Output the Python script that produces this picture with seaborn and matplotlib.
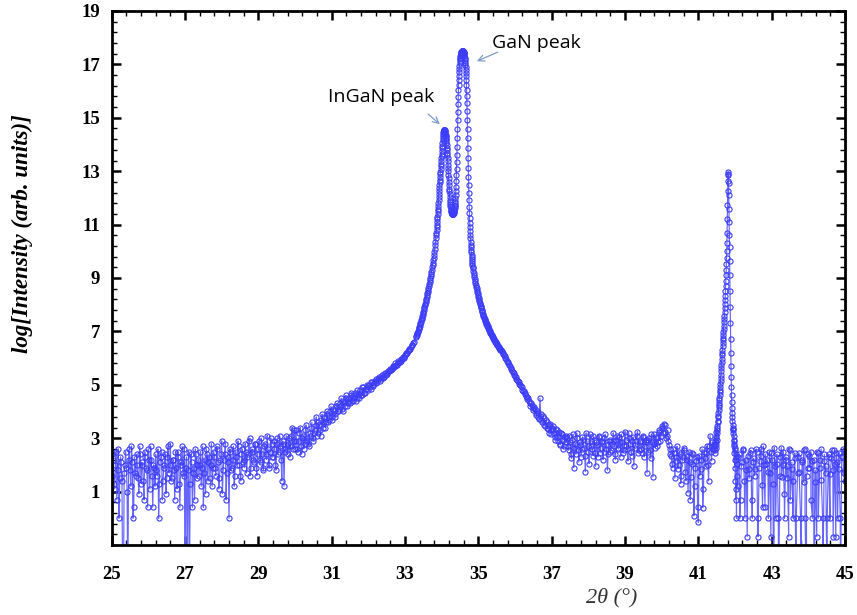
import numpy as np
import pandas as pd
import matplotlib
matplotlib.use("Agg")
import matplotlib.pyplot as plt
from matplotlib.ticker import FixedLocator
import seaborn as sns

sns.set_style("white")

# ---------------- data (2theta in degrees, natural log of intensity) -------------
# background 25.00 - 30.00, step 0.04
bg_left_range = (25.00, 30.00)
bg_left = [1.6, 2.2, 1.1, 2.5, 1.8, 0.0, 2.3, 1.4, -3.0, 2.0,
           1.9, -3.0, 2.6, 1.2, 2.1, 0.41, 1.7, 2.4, 1.5, 2.7,
           1.3, 2.0, 0.69, 2.3, 1.8, 2.6, 1.1, 2.2, 0.41, 1.9,
           2.4, 1.6, 0.0, 2.1, 2.5, 1.4, 2.0, 0.92, 2.3, 1.7,
           2.8, 1.5, 2.2, 0.69, 1.9, 2.5, 1.3, 2.1, 2.7, 1.6,
           -3.0, 2.3, 1.8, -3.0, 2.4, 0.41, 1.9, 2.6, 1.5, 2.2,
           2.0, 1.2, 2.7, 1.7, 0.92, 2.4, 2.1, 1.5, 2.8, 1.9,
           2.3, 1.6, 2.6, 1.1, 2.2, 2.9, 1.8, 2.4, 0.69, 2.1,
           0.0, 2.5, 1.9, 2.7, 1.6, 2.3, 2.9, 2.0, 1.4, 2.6,
           2.2, 2.8, 1.7, 2.4, 3.0, 1.9, 2.5, 2.1, 2.8, 1.6,
           2.6, 2.2, 3.0, 1.9, 2.7, 2.4, 3.1, 2.0, 2.5, 2.8,
           2.3, 2.9, 1.8, 3.0, 2.5, 2.7, 1.4, 2.8, 2.6, 3.1,
           2.4, 3.0, 2.7, 3.4, 2.9, 2.6]
# background 25.02 - 29.98 (interleaved scan points)
bg_left_mid_range = (25.02, 29.98)
bg_left_mid = [2.4, 1.3, 2.0, 0.69, 2.6, 1.5, 2.1, -3.0, 1.7, 2.5,
               1.0, 2.2, 1.8, 2.7, 0.0, 2.3, 1.6, 2.0, 0.92, 2.4,
               2.1, 1.4, 2.5, 1.9, 0.41, 2.2, 2.7, 1.6, 2.0, 1.2,
               1.8, 2.6, 1.3, 2.3, 0.69, 1.9, 2.4, 1.5, 2.7, 2.0,
               1.4, 2.2, 1.8, 2.5, 1.1, 2.3, 0.41, 2.0, 1.7, 2.6,
               1.9, -3.0, 2.5, 1.3, 2.1, 1.7, 0.69, 2.4, 2.0, 1.6,
               2.5, 1.9, 0.41, 2.2, 2.6, 1.4, 2.3, 2.0, 1.2, 2.5,
               1.9, 2.7, 2.1, 1.5, 2.4, 0.92, 2.2, 2.8, 1.7, 2.3,
               2.6, 1.8, 2.2, 1.2, 2.5, 2.0, 2.7, 1.6, 2.4, 2.1,
               1.9, 2.5, 2.3, 2.9, 1.6, 2.6, 2.2, 2.8, 1.9, 2.4,
               2.9, 2.1, 2.4, 1.8, 2.8, 2.2, 2.6, 1.9, 3.0, 2.3,
               2.6, 2.0, 2.8, 2.4, 3.1, 2.2, 2.9, 1.2, 2.5, 2.7,
               2.8, 2.3, 3.1, 2.6, 3.3]

# rising tail of the peaks 30.04 - 33.24, step 0.04
tail_left_range = (30.04, 33.24)
tail_left = [2.9, 2.5, 3.2, 2.7, 3.0, 2.6, 3.3, 2.9, 2.8, 3.1,
             3.4, 3.0, 3.2, 3.5, 3.1, 3.6, 3.3, 3.7, 3.4, 3.8,
             3.6, 3.9, 3.7, 4.0, 3.8, 4.1, 3.9, 4.2, 4.0, 4.1,
             4.3, 4.1, 4.4, 4.2, 4.5, 4.3, 4.4, 4.6, 4.4, 4.5,
             4.7, 4.5, 4.6, 4.8, 4.6, 4.9, 4.7, 4.8, 5.0, 4.8,
             4.9, 5.1, 4.95, 5.05, 5.2, 5.1, 5.25, 5.15, 5.3, 5.25,
             5.4, 5.35, 5.45, 5.5, 5.55, 5.6, 5.65, 5.7, 5.75, 5.8,
             5.85, 5.9, 5.95, 6.0, 6.1, 6.15, 6.25, 6.3, 6.4, 6.5,
             6.6]
tail_left_mid_range = (30.02, 33.22)
tail_left_mid = [3.3, 2.6, 2.9, 3.4, 2.4, 3.1, 2.8, 3.5, 3.0, 2.7,
                 3.2, 3.6, 2.9, 3.3, 3.8, 3.2, 3.5, 3.1, 3.9, 3.6,
                 3.4, 4.0, 3.6, 3.8, 4.2, 3.7, 4.0, 3.8, 4.3, 4.0,
                 4.2, 4.5, 4.0, 4.3, 4.6, 4.2, 4.5, 4.3, 4.7, 4.4,
                 4.6, 4.4, 4.8, 4.5, 4.7, 4.6, 4.9, 4.7, 4.85, 4.95,
                 5.0, 4.85, 5.1, 5.0, 5.15, 5.05, 5.2, 5.3, 5.2, 5.35,
                 5.3, 5.45, 5.4, 5.5, 5.6, 5.55, 5.7, 5.65, 5.8, 5.75,
                 5.9, 5.85, 5.95, 6.05, 6.05, 6.2, 6.2, 6.35, 6.35, 6.5,
                 6.55]

# InGaN flank 33.30 - 33.84, step 0.01
flank_left_range = (33.30, 33.84)
flank_left = [6.78, 6.82, 6.86, 6.90, 6.94, 6.99, 7.03, 7.08, 7.12, 7.17,
              7.22, 7.27, 7.32, 7.37, 7.42, 7.47, 7.52, 7.58, 7.63, 7.69,
              7.74, 7.80, 7.86, 7.92, 7.98, 8.04, 8.10, 8.16, 8.23, 8.29,
              8.36, 8.42, 8.49, 8.56, 8.63, 8.70, 8.77, 8.85, 8.92, 9.00,
              9.07, 9.15, 9.23, 9.31, 9.40, 9.48, 9.57, 9.66, 9.76, 9.87,
              9.98, 10.10, 10.22, 10.35, 10.48]

# InGaN + GaN peaks 33.850 - 34.850, step 0.005
peaks_range = (33.85, 34.85)
peaks = [10.60, 10.70, 10.80, 10.90, 11.00, 11.10, 11.20, 11.30, 11.40, 11.50,
         11.60, 11.70, 11.80, 11.92, 12.03, 12.14, 12.25, 12.36, 12.47, 12.58,
         12.68, 12.78, 12.88, 12.98, 13.08, 13.18, 13.28, 13.38, 13.48, 13.57,
         13.66, 13.76, 13.86, 13.96, 14.06, 14.15, 14.24, 14.32, 14.39, 14.45,
         14.50, 14.53, 14.55, 14.56, 14.56, 14.55, 14.53, 14.51, 14.48, 14.44,
         14.41, 14.37, 14.32, 14.26, 14.19, 14.12, 14.05, 13.97, 13.88, 13.79,
         13.69, 13.59, 13.48, 13.37, 13.25, 13.12, 12.99, 12.86, 12.73, 12.60,
         12.47, 12.35, 12.24, 12.13, 12.03, 11.94, 11.86, 11.78, 11.71, 11.65,
         11.60, 11.55, 11.51, 11.48, 11.45, 11.43, 11.41, 11.40, 11.39, 11.39,
         11.39, 11.39, 11.40, 11.41, 11.43, 11.45, 11.48, 11.51, 11.55, 11.59,
         11.64, 11.69, 11.75, 11.82, 11.90, 11.99, 12.10, 12.25, 12.42, 12.62,
         12.84, 13.08, 13.34, 13.62, 13.92, 14.24, 14.57, 14.90, 15.22, 15.52,
         15.79, 16.03, 16.24, 16.42, 16.58, 16.72, 16.84, 16.95, 17.04, 17.12,
         17.19, 17.25, 17.30, 17.34, 17.38, 17.41, 17.44, 17.46, 17.48, 17.49,
         17.50, 17.51, 17.51, 17.51, 17.51, 17.51, 17.50, 17.49, 17.48, 17.46,
         17.44, 17.41, 17.38, 17.34, 17.30, 17.25, 17.19, 17.13, 17.06, 16.98,
         16.89, 16.79, 16.68, 16.55, 16.40, 16.23, 16.03, 15.80, 15.54, 15.25,
         14.93, 14.59, 14.23, 13.86, 13.49, 13.13, 12.79, 12.47, 12.18, 11.91,
         11.67, 11.45, 11.25, 11.07, 10.90, 10.75, 10.61, 10.48, 10.36, 10.25,
         10.15, 10.05, 9.96, 9.87, 9.79, 9.71, 9.63, 9.56, 9.49, 9.42,
         9.36]

# GaN flank 34.86 - 35.60, step 0.01
flank_right_range = (34.86, 35.60)
flank_right = [9.28, 9.20, 9.12, 9.04, 8.96, 8.89, 8.82, 8.75, 8.68, 8.61,
               8.55, 8.48, 8.42, 8.36, 8.30, 8.24, 8.18, 8.12, 8.07, 8.01,
               7.96, 7.91, 7.86, 7.81, 7.76, 7.72, 7.67, 7.63, 7.59, 7.55,
               7.51, 7.47, 7.43, 7.39, 7.36, 7.32, 7.29, 7.26, 7.22, 7.19,
               7.16, 7.13, 7.10, 7.07, 7.04, 7.01, 6.98, 6.95, 6.92, 6.90,
               6.87, 6.84, 6.82, 6.79, 6.77, 6.74, 6.72, 6.69, 6.67, 6.64,
               6.62, 6.60, 6.57, 6.55, 6.53, 6.50, 6.48, 6.46, 6.44, 6.42,
               6.39, 6.37, 6.35, 6.33, 6.31]

# decaying tail 35.64 - 37.40, step 0.04
tail_right_range = (35.64, 37.40)
tail_right = [6.27, 6.17, 6.06, 5.96, 5.86, 5.75, 5.64, 5.52, 5.43, 5.33,
              5.22, 5.15, 5.03, 4.95, 4.82, 4.78, 4.64, 4.55, 4.50, 4.32,
              4.30, 4.12, 4.18, 3.95, 4.02, 3.80, 4.50, 3.70, 3.85, 3.50,
              3.68, 3.40, 3.20, 3.55, 3.30, 3.45, 3.05, 3.35, 2.90, 3.25,
              2.75, 3.15, 2.60, 3.05, 2.85]
tail_right_mid_range = (35.62, 37.38)
tail_right_mid = [6.30, 6.20, 6.10, 6.00, 5.90, 5.80, 5.70, 5.58, 5.47, 5.38,
                  5.28, 5.18, 5.10, 4.98, 4.90, 4.75, 4.70, 4.58, 4.45, 4.40,
                  4.22, 4.25, 4.05, 4.10, 3.88, 3.95, 3.72, 3.90, 3.60, 3.75,
                  3.45, 3.60, 3.35, 3.50, 3.15, 3.40, 3.20, 2.95, 3.30, 3.05,
                  2.80, 3.20, 2.95, 2.70, 3.10]

# background 37.44 - 41.44, step 0.04
bg_mid_range = (37.44, 41.44)
bg_mid = [2.70, 3.10, 2.40, 2.95, 1.90, 2.80, 3.20, 2.55, 2.85, 2.30,
          3.05, 2.65, 1.75, 2.90, 2.50, 3.15, 2.70, 2.35, 2.95, 1.95,
          2.75, 3.10, 2.45, 2.85, 2.20, 3.00, 2.60, 1.80, 2.90, 2.50,
          2.80, 3.20, 2.40, 2.95, 2.65, 3.05, 2.30, 2.85, 2.55, 3.25,
          2.70, 2.15, 3.00, 2.50, 2.90, 1.95, 2.75, 3.10, 2.45, 2.85,
          2.60, 3.05, 2.30, 2.85, 1.70, 2.95, 2.55, 3.15, 1.55, 2.80,
          3.05, 2.70, 3.25, 2.90, 3.45, 3.20, 3.50, 3.00, 3.30, 2.75,
          2.40, 2.05, 2.60, 1.50, 2.30, 1.85, 2.50, 1.30, 2.20, 2.65,
          1.75, 2.35, 0.95, 2.10, 1.55, 2.45, 0.10, 1.90, 2.30, -0.15,
          1.60, 2.20, 0.40, 2.50, 1.95, 2.70, 1.40, 3.10, 2.15, 2.60,
          2.75]
bg_mid_mid_range = (37.42, 41.42)
bg_mid_mid = [3.00, 2.55, 2.85, 2.25, 3.15, 2.65, 2.40, 3.00, 2.10, 2.75,
              2.60, 2.95, 2.35, 3.20, 2.70, 2.05, 2.90, 2.60, 3.10, 2.45,
              2.85, 2.30, 3.05, 2.65, 2.90, 2.50, 3.15, 2.75, 2.40, 2.95,
              2.55, 2.90, 2.70, 2.20, 3.10, 2.60, 2.85, 3.15, 2.45, 2.75,
              2.95, 2.60, 3.20, 2.80, 2.35, 3.05, 2.65, 2.90, 3.25, 2.55,
              2.90, 2.45, 3.10, 2.70, 2.95, 2.50, 3.00, 2.25, 2.85, 3.15,
              2.65, 3.00, 2.85, 3.30, 3.10, 3.40, 3.55, 3.25, 3.10, 2.90,
              2.60, 2.35, 1.90, 2.45, 2.15, 2.70, 2.00, 2.40, 1.60, 2.30,
              2.55, 1.40, 2.20, 2.50, 0.70, 2.05, 2.40, 1.20, 2.15, 0.41,
              2.35, 1.85, 2.60, 1.10, 2.25, 2.45, 2.00, 2.70, 2.50, 2.85,
              2.60]

# substrate peak 41.450 - 42.050, step 0.005
sub_peak_range = (41.45, 42.05)
sub_peak = [2.55, 2.90, 2.45, 2.80, 2.65, 3.00, 2.75, 3.10, 2.85, 3.25,
            2.95, 3.30, 3.20, 3.45, 3.40, 3.60, 3.65, 3.80, 3.85, 3.95,
            4.05, 4.15, 4.25, 4.33, 4.42, 4.52, 4.62, 4.72, 4.82, 4.92,
            5.02, 5.14, 5.26, 5.38, 5.50, 5.62, 5.74, 5.86, 5.98, 6.10,
            6.20, 6.32, 6.44, 6.55, 6.66, 6.77, 6.88, 6.99, 7.10, 7.22,
            7.34, 7.46, 7.58, 7.72, 7.86, 8.01, 8.17, 8.34, 8.52, 8.71,
            8.90, 9.10, 9.30, 9.52, 9.75, 10.00, 10.30, 10.70, 11.20, 11.75,
            12.25, 12.65, 12.90, 12.97, 12.85, 12.55, 12.10, 11.60, 11.10, 10.62,
            10.15, 9.65, 9.10, 8.50, 7.90, 7.30, 6.72, 6.18, 5.70, 5.28,
            4.92, 4.62, 4.36, 4.14, 3.95, 3.78, 3.63, 3.50, 3.39, 3.29,
            3.20, 3.35, 2.95, 3.10, 2.70, 2.90, 2.45, 2.80, 2.20, 2.65,
            1.90, 2.55, 1.40, 2.40, 0.69, 2.30, 1.10, 2.20, 0.00, 2.05,
            1.60]

# background 42.09 - 45.00, step ~0.04
bg_right_range = (42.09, 45.00)
bg_right = [2.30, 0.00, 1.95, 2.55, 1.40, 2.20, -0.69, 1.85, 2.45, 0.69,
            2.10, 1.60, 2.60, 0.00, 1.90, 2.35, 1.25, 2.70, 0.41, 2.05,
            1.75, 2.50, -0.69, 2.20, -3.0, 1.95, 2.40, 0.00, 1.60, 2.65,
            2.00, 0.92, 2.30, 1.50, -0.69, 2.55, 1.85, 0.00, 2.25, -3.0,
            1.70, 2.45, 0.00, 2.10, 1.35, 2.60, -3.0, 1.90, 2.35, 0.69,
            2.15, -3.0, 1.80, 2.50, 0.00, 2.20, 1.45, -3.0, 2.40, 1.95,
            0.00, 2.30, 1.65, 2.55, -0.69, 2.05, 2.45, 0.00, 1.85, -3.0,
            2.35, 1.70, 2.55]
bg_right_mid_range = (42.07, 44.99)
bg_right_mid = [1.20, 2.40, 0.69, 2.10, 2.60, 0.00, 1.80, 2.35, 1.50, 2.55,
                0.00, 2.25, 1.85, 2.50, -0.69, 2.15, 2.60, 0.41, 2.00, 2.40,
                2.20, 0.00, 1.70, 2.45, 1.30, 2.65, 0.00, 2.05, -3.0, 2.30,
                1.55, 2.50, 0.00, 2.20, 1.95, 2.60, 0.69, 2.10, 1.40, 2.45,
                0.00, 2.30, 1.75, -3.0, 2.20, 2.55, 0.00, 1.60, 2.40, 1.90,
                2.50, 0.00, 2.20, 1.35, -0.69, 2.45, 1.90, 2.60, 0.00, 2.15,
                1.70, -3.0, 2.40, 0.00, 2.25, 1.80, 2.55, -0.69, 2.10, 2.45,
                0.00, 2.30, 2.60, 1.40]

x_ticks = [25, 27, 29, 31, 33, 35, 37, 39, 41, 43, 45]
y_ticks = [1, 3, 5, 7, 9, 11, 13, 15, 17, 19]
x_label = "2\u03b8 (\u00b0)"
y_label = "log[Intensity (arb. units)]"
ann_ingan = "InGaN peak"
ann_gan = "GaN peak"

# --------------------------------------------------------------------------------
segments = [(bg_left_range, bg_left), (bg_left_mid_range, bg_left_mid),
            (tail_left_range, tail_left), (tail_left_mid_range, tail_left_mid),
            (flank_left_range, flank_left), (peaks_range, peaks),
            (flank_right_range, flank_right), (tail_right_range, tail_right),
            (tail_right_mid_range, tail_right_mid),
            (bg_mid_range, bg_mid), (bg_mid_mid_range, bg_mid_mid),
            (sub_peak_range, sub_peak),
            (bg_right_range, bg_right), (bg_right_mid_range, bg_right_mid)]
xs, ys = [], []
for (a, b), vals in segments:
    xs.append(np.linspace(a, b, len(vals)))
    ys.append(np.asarray(vals, dtype=float))
df = pd.DataFrame({"two_theta": np.concatenate(xs), "logI": np.concatenate(ys)})
df = df.sort_values("two_theta", kind="mergesort").reset_index(drop=True)

W, H = 857, 615
fig = plt.figure(figsize=(W / 100, H / 100), dpi=100)
L, R, T, B = 111.7, 845.0, 11.0, 545.0
ax = fig.add_axes([L / W, (H - B) / H, (R - L) / W, (B - T) / H])

blue_line = (0.40, 0.40, 1.0)
blue_mark = (0.24, 0.24, 0.98)
sns.lineplot(data=df, x="two_theta", y="logI", ax=ax, estimator=None, sort=False,
             color=blue_line, linewidth=0.85, marker="o", markersize=3.7,
             markerfacecolor="none", markeredgecolor=blue_mark,
             markeredgewidth=0.8)

ax.set_xlim(25, 45)
ax.set_ylim(-1, 19)
ax.set_xticks(x_ticks)
ax.set_yticks(y_ticks)
ax.xaxis.set_minor_locator(FixedLocator(np.arange(25, 45.001, 0.4)))
ax.yaxis.set_minor_locator(FixedLocator(np.arange(-1, 19.001, 0.4)))
ax.tick_params(which="both", direction="in", top=True, right=True,
               bottom=True, left=True, colors="black")
ax.tick_params(which="major", length=6.5, width=1.8)
ax.tick_params(which="minor", length=3.8, width=1.0)
ax.tick_params(axis="x", which="major", pad=15)
ax.tick_params(axis="y", which="major", pad=8.5)
for lab in ax.get_xticklabels() + ax.get_yticklabels():
    lab.set_fontfamily("Liberation Serif")
    lab.set_fontweight("bold")
    lab.set_fontsize(13.5)
for sp in ax.spines.values():
    sp.set_linewidth(2.0)
    sp.set_color("black")
ax.set_xlabel("")
ax.set_ylabel("")
ax.grid(False)

fig.text(612 / W, 1 - 598 / H, x_label, family="Liberation Serif", style="italic",
         fontsize=16, color="#333333", ha="center", va="center")
fig.text(22 / W, 1 - 234 / H, y_label, family="Liberation Serif", style="italic",
         weight="bold", fontsize=16.5, color="black", ha="center", va="center",
         rotation=90)

arrow_kw = dict(arrowstyle="->", color="#7d9ccc", lw=0.9, mutation_scale=11,
                shrinkA=0, shrinkB=0)
ax.text(32.34, 15.78, ann_ingan, family="Open Sans", fontsize=14,
        ha="center", va="center", color="black")
ax.annotate("", xy=(33.95, 14.76), xytext=(33.63, 15.14), arrowprops=arrow_kw)
ax.text(36.57, 17.8, ann_gan, family="Open Sans", fontsize=14,
        ha="center", va="center", color="black")
ax.annotate("", xy=(34.96, 17.12), xytext=(35.53, 17.46), arrowprops=arrow_kw)

fig.savefig("out.png", dpi=100)
